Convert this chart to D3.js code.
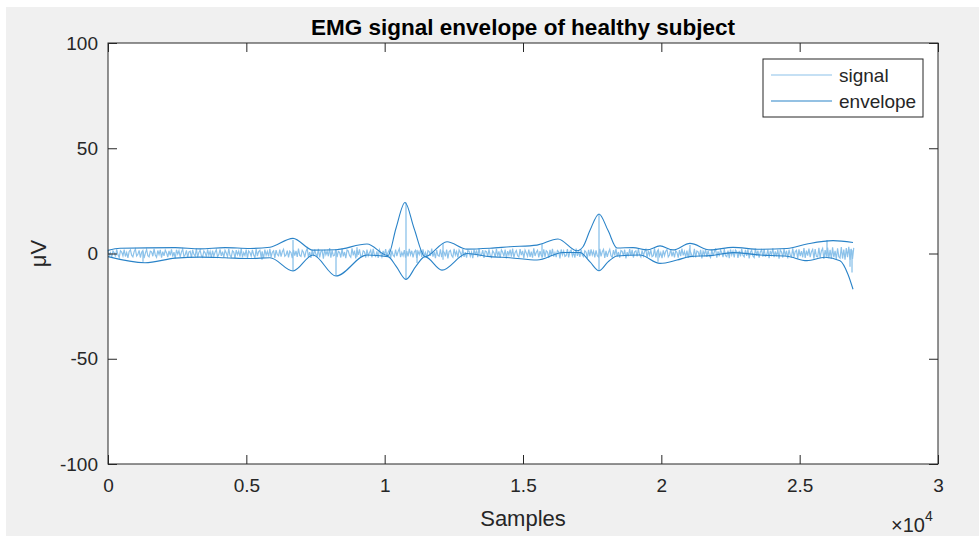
<!DOCTYPE html>
<html>
<head>
<meta charset="utf-8">
<style>
  body { margin: 0; background: #fff; }
  text { font-family: "Liberation Sans", Arial, Helvetica, sans-serif; fill: #262626; }
</style>
<script src="https://cdn.jsdelivr.net/npm/d3@7"></script>
</head>
<body>
<script>
// Data
const xTicks = [0, 5000, 10000, 15000, 20000, 25000, 30000]
const xTickLabels = ['0', '0.5', '1', '1.5', '2', '2.5', '3']
const yTicks = [-100, -50, 0, 50, 100]
const signalStep = 45 // samples between stored signal values
const signal = [
  1.6,-0.9,0.4,-1.8,1.2,0.3,-1.5,2.0,-0.6,-1.9,1.3,0.7,-1.1,1.8,-1.4,0.5,-2.1,1.0,1.7,-0.8,
  -1.6,0.9,2.1,-1.2,-0.4,1.5,-1.9,0.6,1.4,-2.2,0.2,1.9,-1.0,-1.6,1.1,0.8,-1.3,2.2,-0.7,-1.8,
  1.4,-0.5,1.7,-2.0,0.9,-1.1,1.6,0.4,-1.7,1.2,-0.9,2.0,-1.5,0.6,-2.3,1.8,-0.3,1.3,-1.6,0.7,
  2.1,-1.4,-0.6,1.5,-1.9,0.8,1.1,-2.1,1.7,-0.4,-1.2,2.3,-1.8,0.5,1.6,-1.0,-1.7,1.2,0.3,-1.5,
  1.9,-0.8,1.0,-2.0,1.4,-1.3,0.6,1.8,-1.6,-0.5,2.0,-1.1,0.9,-1.9,1.5,0.2,-1.4,2.2,-0.9,-1.7,
  1.3,0.7,-2.2,1.6,-0.6,1.1,-1.5,2.4,-1.8,0.4,-1.0,1.9,-2.3,1.2,0.5,-1.3,1.7,-0.7,-1.9,2.1,
  -1.2,0.9,1.5,-1.6,0.3,-2.0,1.8,-0.8,1.0,-1.4,2.2,-1.7,0.6,1.3,-2.1,1.6,-0.5,-1.1,1.9,-1.5,
  0.8,2.0,-1.3,-0.7,1.4,-1.9,1.1,0.4,-2.2,1.7,-1.0,1.2,-1.6,2.3,-0.9,-1.4,1.5,0.6,-1.8,1.0,
  2.4,-1.7,0.7,-2.1,1.6,-1.2,1.9,-0.4,-1.5,2.2,-1.9,0.9,1.3,-2.4,1.8,-0.6,1.1,-1.3,2.6,-2.0,
  1.5,-1.1,-0.8,2.1,-1.7,1.0,0.5,-1.9,2.3,-1.4,0.7,-2.2,1.6,1.2,-1.0,-1.8,2.5,-0.9,1.4,-2.3,
  1.7,-0.6,2.0,-1.5,-1.2,1.3,0.8,-2.0,1.9,-1.1,0.4,1.6,-1.8,2.2,-0.7,-1.4,1.0,-2.1,1.8,0.3,
  -1.6,1.2,-0.9,2.1,-1.3,0.6,1.7,-2.4,1.4,-0.8,-1.5,1.9,-1.2,0.9,2.3,-1.7,0.5,-1.0,1.6,-2.0,
  1.1,-1.4,2.2,-0.6,1.3,-1.8,0.7,1.5,-2.1,1.0,-0.5,1.8,-1.6,2.0,-1.3,0.4,-1.9,1.4,0.9,-1.1,
  2.3,-1.5,0.8,-2.2,1.6,-0.9,-1.3,2.0,-1.7,1.2,0.6,-1.4,1.9,-2.3,0.9,1.5,-1.0,-1.8,2.2,-0.7,
  1.0,-1.9,1.7,0.5,-1.2,2.1,-1.6,0.7,-2.0,1.4,1.1,-1.3,0.6,-2.2,1.8,-0.8,1.5,-1.7,2.4,-1.1,
  -0.6,1.6,-2.1,1.2,0.9,-1.5,2.0,-1.0,-1.8,1.3,0.4,-1.6,2.2,-1.2,1.0,-2.0,1.7,0.6,-1.4,1.9,
  -2.3,1.1,-0.7,1.8,-1.5,2.3,-1.9,0.5,1.4,-1.1,-1.7,2.1,-0.8,1.2,-2.2,1.6,0.3,-1.3,1.9,-1.6,
  0.9,-2.0,2.4,-1.2,0.6,1.5,-1.8,1.1,-0.9,-1.4,2.0,-1.6,1.3,0.7,-2.1,1.7,-1.0,2.2,-1.5,0.4,
  -1.7,1.4,0.8,-2.3,1.9,-0.6,1.2,-1.4,-1.0,2.1,-1.8,0.9,1.6,-1.2,0.5,-2.0,2.3,-1.1,1.0,-1.6,
  1.8,-0.8,-1.5,1.3,0.6,-2.2,1.7,-1.3,2.0,-0.7,1.1,-1.9,1.5,-1.0,-1.6,2.2,-1.4,0.8,1.9,-2.1,
  1.2,-1.6,0.5,2.0,-1.1,-1.8,1.6,-0.9,2.3,-1.5,0.7,-2.0,1.4,1.0,-1.2,1.8,-2.3,0.6,-1.3,2.1,
  -1.0,1.7,-1.9,0.8,1.3,-1.4,2.2,-0.6,-1.7,1.5,-1.1,0.9,2.0,-2.1,1.2,-0.8,1.6,-1.5,-1.0,2.4,
  -1.9,0.7,1.8,-1.3,0.4,-2.2,1.5,-1.0,1.1,1.9,-1.6,-0.7,2.1,-1.4,0.9,-1.8,1.3,0.5,-2.0,1.6,
  -1.2,2.3,-0.9,1.0,-1.7,1.4,-2.1,1.9,0.6,-1.1,-1.5,2.2,-1.8,1.2,0.8,-1.4,1.7,-2.3,1.1,-0.6,
  2.0,-1.6,1.3,-0.9,-1.9,1.8,-1.2,0.7,2.4,-2.0,1.0,-1.3,1.6,0.4,-1.7,2.1,-1.0,-1.5,1.4,-2.2,
  1.9,-0.7,1.1,-1.8,1.6,0.9,-2.1,1.3,-1.4,2.2,-0.8,-1.6,1.7,-1.1,2.0,-2.3,0.6,1.5,-1.2,-1.9,
  2.3,-1.0,1.4,-2.0,0.8,1.7,-1.5,2.1,-1.3,-0.9,1.9,-2.2,1.2,-0.6,2.5,-1.7,1.0,-1.4,1.8,-2.4,
  1.6,0.7,-1.9,2.2,-1.1,1.3,-2.3,1.8,-0.8,-1.5,2.4,-1.6,0.9,1.5,-2.5,2.0,-1.2,1.1,-1.8,2.6,
  -2.1,1.4,-1.0,2.3,-1.7,0.8,1.9,-2.4,2.1,-1.3,-1.6,2.7,-2.0,1.2,2.4,-2.6,1.6,-1.4,2.8,-2.2,
  1.7,-2.5,2.9,-1.8,1.3,-2.7,2.5,-1.5,-2.2,3.0,-2.4,1.9,-2.9,2.6,-1.7,3.2,-3.0,2.2,-2.6,2.7
]
// [sample, top, bottom] of the sharp spikes in the raw signal
const spikes = [
  [1265, 1.0, -3.9], [5566, 1.0, -3.0], [6687, 6.4, -8.3], [8241, 1.5, -10.7],
  [9000, 3.0, -1.5], [10771, 24.2, -12.3], [11169, 1.5, -4.5], [12109, 5.0, -3.0],
  [15687, 4.5, -2.0], [17747, 18.8, -8.2], [19880, 1.5, -3.9], [21036, 4.0, -1.5],
  [25988, 6.4, -1.5], [26820, 2.0, -6.3], [26892, 1.5, -9.0]
]
// [sample, value] of upper / lower envelope
const envUpper = [
  [0, 1.5], [434, 2.5], [2422, 2.8], [3325, 2.2], [4229, 2.8], [5133, 2.4], [5855, 3.0],
  [6687, 7.2], [7410, 1.6], [8241, 1.8], [9361, 4.5], [10121, -1.0], [10410, 12], [10735, 24.2],
  [11061, 12], [11458, -1.5], [12253, 5.6], [12976, 2.1], [13807, 2.5], [14530, 3.2],
  [15506, 4.0], [16265, 6.9], [16952, 1.3], [17169, 3.2], [17422, 11], [17747, 18.8],
  [18072, 11], [18398, 2.6], [18976, 2.8], [19482, 1.7], [19952, 3.6], [20422, 1.7],
  [21036, 4.8], [21759, 1.7], [22590, 2.9], [23566, 2.0], [24542, 2.4], [25265, 4.5],
  [26205, 6.1], [26928, 5.2]
]
const envLower = [
  [0, -1.5], [1337, -4.4], [2422, -2.2], [3325, -1.7], [4229, -2.0], [5133, -2.4], [5855, -2.0],
  [6687, -8.3], [7410, -0.7], [8241, -10.7], [9361, -0.7], [10121, -1.5], [10410, -6],
  [10771, -12.3], [11133, -6], [11458, -1.5], [12072, -7.9], [12976, 0], [13807, -1.5],
  [14530, -2.0], [15506, -3.1], [16446, 0.5], [17061, 0.5], [17422, -4], [17747, -8.2],
  [18072, -4], [18398, -1.2], [19229, -0.7], [19952, -4.7], [20567, -3.1], [21036, -1.5],
  [21759, -1.0], [22590, 0.4], [23566, -0.7], [24542, -1.3], [25265, -3.4], [25915, -1.8],
  [26458, -3.5], [26748, -10], [26928, -17]
]

const width = 979, height = 536
const signalColor = '#8cc2ea', envColor = '#2a83c8', axisColor = '#262626'
const font = '"Liberation Sans", Arial, Helvetica, sans-serif'
const x = d3.scaleLinear([0, 30000], [108, 938])
const y = d3.scaleLinear([-100, 100], [464, 43])

const svg = d3.select('body').append('svg')
  .attr('width', width).attr('height', height)

svg.append('rect').attr('x', 6).attr('y', 7).attr('width', width - 6).attr('height', height - 7)
  .attr('fill', '#f0f0f0')
svg.append('rect').attr('x', x(0)).attr('y', y(100))
  .attr('width', x(30000) - x(0)).attr('height', y(-100) - y(100))
  .attr('fill', '#fff')

// Plot area
const plot = svg.append('g')
plot.append('path')
  .datum(signal)
  .attr('fill', 'none')
  .attr('stroke', signalColor)
  .attr('stroke-width', 1.2)
  .attr('d', d3.line((d, i) => x(i * signalStep), d => y(d)))
plot.append('g')
  .selectAll('line')
  .data(spikes)
  .join('line')
  .attr('x1', d => x(d[0])).attr('x2', d => x(d[0]))
  .attr('y1', d => y(d[1])).attr('y2', d => y(d[2]))
  .attr('stroke', signalColor)
  .attr('stroke-width', 1.3)
const envLine = d3.line(d => x(d[0]), d => y(d[1])).curve(d3.curveMonotoneX)
plot.selectAll('path.env')
  .data([envUpper, envLower])
  .join('path')
  .attr('class', 'env')
  .attr('fill', 'none')
  .attr('stroke', envColor)
  .attr('stroke-width', 1.1)
  .attr('d', envLine)

// Axes with inward ticks, MATLAB box style
const tick = 9
const styleAxis = g => {
  g.select('.domain').remove()
  g.selectAll('.tick line').attr('stroke', axisColor)
  g.selectAll('.tick text').attr('fill', axisColor)
    .style('font-family', font).style('font-size', '19px')
}
svg.append('g').attr('transform', `translate(0,${y(-100)})`)
  .call(d3.axisBottom(x).tickValues(xTicks).tickFormat((d, i) => xTickLabels[i])
    .tickSizeInner(-tick).tickSizeOuter(0).tickPadding(15))
  .call(styleAxis)
svg.append('g').attr('transform', `translate(0,${y(100)})`)
  .call(d3.axisTop(x).tickValues(xTicks).tickFormat('').tickSizeInner(-tick).tickSizeOuter(0))
  .call(styleAxis)
svg.append('g').attr('transform', `translate(${x(0)},0)`)
  .call(d3.axisLeft(y).tickValues(yTicks).tickFormat(d => String(d))
    .tickSizeInner(-tick).tickSizeOuter(0).tickPadding(10))
  .call(styleAxis)
svg.append('g').attr('transform', `translate(${x(30000)},0)`)
  .call(d3.axisRight(y).tickValues(yTicks).tickFormat('').tickSizeInner(-tick).tickSizeOuter(0))
  .call(styleAxis)
svg.append('rect').attr('x', x(0)).attr('y', y(100))
  .attr('width', x(30000) - x(0)).attr('height', y(-100) - y(100))
  .attr('fill', 'none').attr('stroke', axisColor).attr('stroke-width', 1)

// Texts
svg.append('text').attr('x', 523).attr('y', 35).attr('text-anchor', 'middle')
  .style('font-size', '22.5px').style('font-weight', 'bold').style('fill', '#000')
  .text('EMG signal envelope of healthy subject')
svg.append('text').attr('x', 523).attr('y', 526).attr('text-anchor', 'middle')
  .style('font-size', '22px').text('Samples')
svg.append('text').attr('transform', `translate(46,${y(0)}) rotate(-90)`).attr('text-anchor', 'middle')
  .style('font-size', '22px').text('μV')
const expo = svg.append('text').attr('x', 891).attr('y', 532).style('font-size', '20px')
expo.append('tspan').text('×10')
expo.append('tspan').attr('dy', -11).style('font-size', '14px').text('4')

// Legend
const legend = svg.append('g').attr('transform', 'translate(763,59)')
legend.append('rect').attr('width', 160).attr('height', 58)
  .attr('fill', '#fff').attr('stroke', axisColor).attr('stroke-width', 1)
const items = legend.selectAll('g.item')
  .data([['signal', signalColor], ['envelope', envColor]])
  .join('g').attr('class', 'item')
  .attr('transform', (d, i) => `translate(0,${16 + i * 26})`)
items.append('line').attr('x1', 8).attr('x2', 69)
  .attr('stroke', d => d[1]).attr('stroke-width', 1.2)
items.append('text').attr('x', 76).attr('dy', '0.35em')
  .style('font-size', '19px').text(d => d[0])
</script>
</body>
</html>
